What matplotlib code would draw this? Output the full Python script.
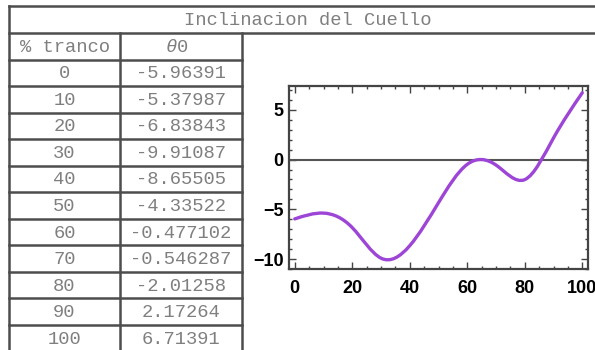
import numpy as np
import matplotlib
matplotlib.use('Agg')
import matplotlib.pyplot as plt
from matplotlib.path import Path
from matplotlib.patches import PathPatch
from matplotlib.ticker import MultipleLocator

# datos de la tabla
titulo = 'Inclinacion del Cuello'
encabezados = ['% tranco', 'θ0']
tranco = [0, 10, 20, 30, 40, 50, 60, 70, 80, 90, 100]
theta0 = [-5.96391, -5.37987, -6.83843, -9.91087, -8.65505, -4.33522,
          -0.477102, -0.546287, -2.01258, 2.17264, 6.71391]

linea = '#4d4d4d'
texto = '#7f7f7f'
mono = ['Liberation Mono', 'DejaVu Sans Mono']

fig = plt.figure(figsize=(5.95, 3.5), dpi=100)

# ---- tabla (coordenadas en pixeles) ----
bg = fig.add_axes([0, 0, 1, 1])
bg.set_xlim(0, 595)
bg.set_ylim(350, 0)
bg.axis('off')

x0, x1, x2 = 9, 120, 242
y_top, y_tit, y_enc = 6, 33, 59.5
alto = 26.55

bg.plot([x0, 595], [y_top, y_top], color=linea, lw=1.8)
bg.plot([x0, 595], [y_tit, y_tit], color=linea, lw=1.8)
bg.plot([x0, x0], [y_top, 350], color=linea, lw=1.8)
bg.plot([x1, x1], [y_tit, 350], color=linea, lw=1.8)
bg.plot([x2, x2], [y_tit, 350], color=linea, lw=1.8)
for k in range(len(tranco)):
    y = y_enc + k * alto
    bg.plot([x0, x2], [y, y], color=linea, lw=1.8)

bg.text(308, (y_top + y_tit) / 2 + 1, titulo, family=mono, fontsize=13.5,
        color=texto, ha='center', va='center')
bg.text((x0 + x1) / 2, (y_tit + y_enc) / 2 + 1, encabezados[0], family=mono,
        fontsize=13.5, color=texto, ha='center', va='center')
bg.text((x1 + x2) / 2 - 4, (y_tit + y_enc) / 2 + 1, encabezados[1][0], family=mono,
        fontsize=13.5, color=texto, ha='right', va='center', style='italic')
bg.text((x1 + x2) / 2 - 4, (y_tit + y_enc) / 2 + 1, encabezados[1][1:], family=mono,
        fontsize=13.5, color=texto, ha='left', va='center')
for k, (t, v) in enumerate(zip(tranco, theta0)):
    yc = y_enc + (k + 0.5) * alto + 1
    bg.text((x0 + x1) / 2, yc, str(t), family=mono, fontsize=13.5,
            color=texto, ha='center', va='center')
    bg.text((x1 + x2) / 2, yc, str(v), family=mono, fontsize=13.5,
            color=texto, ha='center', va='center')

# ---- grafica ----
ax = fig.add_axes([289 / 595, (350 - 269) / 350, (588 - 289) / 595, (269 - 86) / 350])
ax.set_xlim(-2, 102)
ax.set_ylim(-11.0, 7.4)

# curva suave por los puntos: bezier con pendientes de spline cubico natural
xs = np.array(tranco, dtype=float)
ys = np.array(theta0)
n = len(xs)
h = xs[1] - xs[0]
A = np.zeros((n, n))
b = np.zeros(n)
A[0, 0], A[0, 1] = 2, 1
b[0] = 3 * (ys[1] - ys[0]) / h
A[-1, -2], A[-1, -1] = 1, 2
b[-1] = 3 * (ys[-1] - ys[-2]) / h
for i in range(1, n - 1):
    A[i, i - 1], A[i, i], A[i, i + 1] = 1, 4, 1
    b[i] = 3 * (ys[i + 1] - ys[i - 1]) / h
m = np.linalg.solve(A, b)

verts = [(xs[0], ys[0])]
codes = [Path.MOVETO]
for i in range(n - 1):
    verts += [(xs[i] + h / 3, ys[i] + m[i] * h / 3),
              (xs[i + 1] - h / 3, ys[i + 1] - m[i + 1] * h / 3),
              (xs[i + 1], ys[i + 1])]
    codes += [Path.CURVE4] * 3
ax.add_patch(PathPatch(Path(verts, codes), facecolor='none',
                       edgecolor='#9d45d6', lw=2.4, capstyle='round', zorder=3))

ax.axhline(0, color='#555555', lw=1.5, zorder=2)

ax.xaxis.set_major_locator(MultipleLocator(20))
ax.xaxis.set_minor_locator(MultipleLocator(5))
ax.yaxis.set_major_locator(MultipleLocator(5))
ax.yaxis.set_minor_locator(MultipleLocator(1))
ax.tick_params(which='both', direction='in', top=True, right=True,
               color='#444444', width=1.0)
ax.tick_params(which='major', length=5)
ax.tick_params(which='minor', length=2.5)
ax.tick_params(axis='x', pad=8)
ax.tick_params(axis='y', pad=4)
for lab in ax.get_xticklabels() + ax.get_yticklabels():
    lab.set_fontfamily('Liberation Sans')
    lab.set_fontweight('bold')
    lab.set_fontsize(13)
for s in ax.spines.values():
    s.set_color('#444444')
    s.set_linewidth(1.6)

fig.savefig('out.png', dpi=100)
